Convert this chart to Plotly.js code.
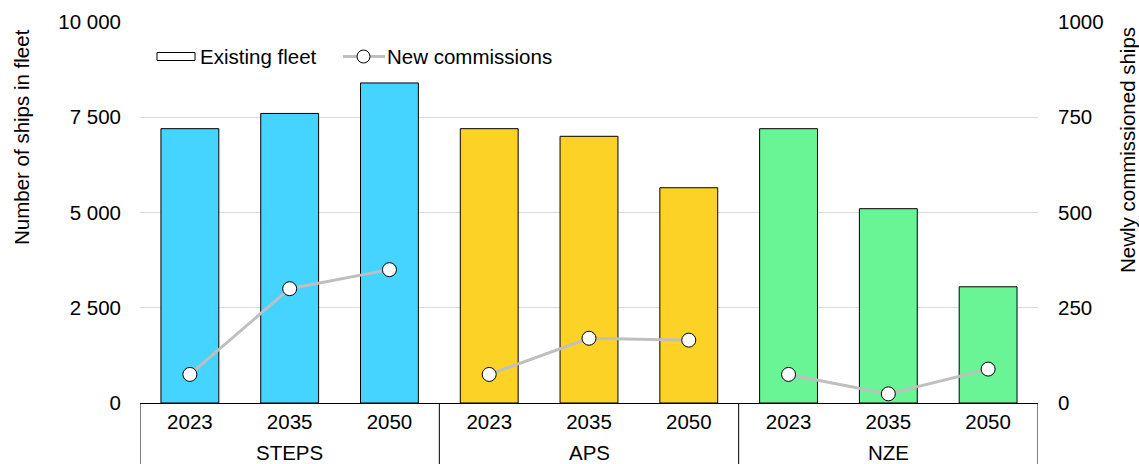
<!DOCTYPE html>
<html><head><meta charset="utf-8">
<script src="https://cdn.plot.ly/plotly-3.0.1.min.js"></script>
<style>html,body{margin:0;padding:0;background:#fff;}#chart{width:1139px;height:464px;}</style>
</head><body><div id="chart"></div>
<script>
const scenarios = ['STEPS','STEPS','STEPS','APS','APS','APS','NZE','NZE','NZE'];
const years = ['2023','2035','2050','2023','2035','2050','2023','2035','2050'];
const fleet = [7200, 7600, 8400, 7200, 7000, 5650, 7200, 5100, 3050];
const commissions = [75, 300, 350, 75, 170, 165, 75, 24, 89];
const groupColors = {STEPS:'#45D3FF', APS:'#FCD226', NZE:'#69F595'};
const groups = ['STEPS','APS','NZE'];
const legendLabels = ['Existing fleet','New commissions'];
const axisTitles = ['Number of ships in fleet','Newly commissioned ships'];

const pos = years.map((_, i) => i);
const traces = [];
traces.push({
  type:'bar', x:pos, y:fleet, width:0.58,
  marker:{color:scenarios.map(s=>groupColors[s]), line:{color:'#000', width:1}},
  showlegend:false, hoverinfo:'y'
});
groups.forEach((g)=>{
  const idx = pos.filter(i=>scenarios[i]===g);
  traces.push({
    type:'scatter', mode:'lines+markers', yaxis:'y2',
    x:idx, y:idx.map(i=>commissions[i]),
    showlegend:false,
    line:{color:'#BFBFBF', width:3},
    marker:{size:14, color:'#fff', line:{color:'#000', width:1}}
  });
});

const FF = 'Liberation Sans, Arial, sans-serif';
const font = {family:FF, size:20.5, color:'#000'};
// pixel -> paper helpers for decorative legend/group box
const L=140, R=1038, T=22, B=403;
const px = v => (v-L)/(R-L), py = v => (B-v)/(B-T);

const shapes = [];
const annotations = [];
// group dividers and labels
const bounds = [-0.5];
groups.forEach((g)=>{
  const idx = pos.filter(i=>scenarios[i]===g);
  bounds.push(idx[idx.length-1]+0.5);
  annotations.push({x:(idx[0]+idx[idx.length-1])/2, xref:'x', y:py(452), yref:'paper', text:g, showarrow:false, font:font, yanchor:'middle'});
});
bounds.forEach(b=>shapes.push({type:'line', xref:'x', yref:'paper', x0:b, x1:b, y0:0, y1:py(470), line:{color:'#000', width:1}}));
// legend
shapes.push({type:'rect', xref:'paper', yref:'paper', x0:px(157), x1:px(195), y0:py(60.5), y1:py(52.5), fillcolor:'#fff', line:{color:'#000', width:1}});
shapes.push({type:'line', xref:'paper', yref:'paper', x0:px(343), x1:px(385), y0:py(56.5), y1:py(56.5), line:{color:'#BFBFBF', width:3}});
shapes.push({type:'circle', xref:'paper', yref:'paper', x0:px(357), x1:px(370), y0:py(63), y1:py(50), fillcolor:'#fff', line:{color:'#000', width:1}});
annotations.push({x:px(198), xref:'paper', y:py(56.5), yref:'paper', text:legendLabels[0], showarrow:false, font:font, xanchor:'left', yanchor:'middle'});
annotations.push({x:px(385), xref:'paper', y:py(56.5), yref:'paper', text:legendLabels[1], showarrow:false, font:font, xanchor:'left', yanchor:'middle'});
// axis titles
annotations.push({x:px(21), xref:'paper', y:py(137), yref:'paper', text:axisTitles[0], textangle:-90, showarrow:false, font:font, xanchor:'center', yanchor:'middle'});
annotations.push({x:px(1127), xref:'paper', y:py(150), yref:'paper', text:axisTitles[1], textangle:-90, showarrow:false, font:font, xanchor:'center', yanchor:'middle'});

const layout = {
  width:1139, height:464,
  margin:{l:L, r:1139-R, t:T, b:464-B},
  paper_bgcolor:'#fff', plot_bgcolor:'#fff',
  font:font,
  separators:'. ',
  barmode:'overlay',
  showlegend:false,
  xaxis:{range:[-0.5, 8.5], tickvals:pos, ticktext:years, showline:true, linecolor:'#000', linewidth:1,
         ticks:'', tickfont:font, automargin:false, showgrid:false, zeroline:false, fixedrange:true},
  yaxis:{range:[0,10000], tickvals:[0,2500,5000,7500,10000], tickformat:',d', showgrid:true, gridcolor:'#D9D9D9', gridwidth:1,
         zeroline:false, showline:false, ticks:'', tickfont:font, automargin:false, ticklabelstandoff:18},
  yaxis2:{overlaying:'y', side:'right', range:[0,1000], tickvals:[0,250,500,750,1000], showgrid:false, zeroline:false, showline:false, ticks:'', tickfont:font, automargin:false, ticklabelstandoff:19},
  shapes:shapes, annotations:annotations
};
Plotly.newPlot('chart', traces, layout, {displayModeBar:false, staticPlot:true});
</script></body></html>
